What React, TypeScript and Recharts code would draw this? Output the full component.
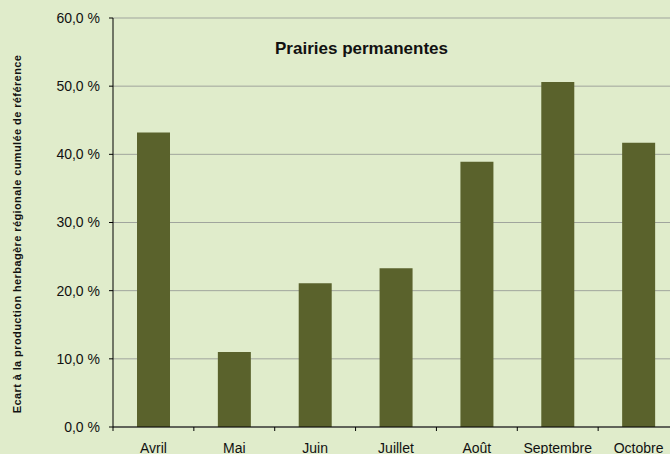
import React from "react";
import { BarChart, Bar, XAxis, YAxis, CartesianGrid, Customized } from "recharts";

const months = ["Avril", "Mai", "Juin", "Juillet", "Août", "Septembre", "Octobre"];
const ecart = [43.2, 11.0, 21.1, 23.3, 38.9, 50.6, 41.7];
const yTicks = [0, 10, 20, 30, 40, 50, 60];
const title = "Prairies permanentes";
const yLabel = "Ecart à la production herbagère régionale cumulée de référence";

const data = months.map((m, i) => ({ month: m, value: ecart[i] }));

const W = 700;
const H = 454;
const M = { top: 18, right: 21, bottom: 0, left: 0 };
const YW = 113;
const XH = 27;
const PLOT_W = W - M.left - M.right - YW;
const BAND = PLOT_W / months.length;
const X_TICK_SIZE = 4;
const X_TICK_MARGIN = 12;

const BG = "#E0ECCB";
const BAR = "#5A622C";
const FONT = "'Liberation Sans', Arial, sans-serif";

const fmt = (v: number) => `${v.toFixed(1).replace(".", ",")} %`;

const XTick = (props: any) => {
  const { x, y, payload } = props;
  const lineX = x - BAND / 2;
  const y0 = y - X_TICK_MARGIN - X_TICK_SIZE;
  return (
    <g>
      <line x1={lineX} x2={lineX} y1={y0} y2={y0 + X_TICK_SIZE} stroke="#000" strokeWidth={1} />
      <text x={x} y={y} dy="0.71em" textAnchor="middle" fontSize={14} fontFamily={FONT} fill="#111">
        {payload.value}
      </text>
    </g>
  );
};

const Texts = () => (
  <g>
    <text x={361.5} y={54} textAnchor="middle" fontSize={17} fontWeight="bold" fontFamily={FONT} fill="#111">
      {title}
    </text>
    <text
      x={21.3}
      y={234}
      transform="rotate(-90 21.3 234)"
      textAnchor="middle"
      fontSize={11}
      fontWeight="bold"
      letterSpacing={0.4}
      fontFamily={FONT}
      fill="#111"
    >
      {yLabel}
    </text>
  </g>
);

export default function App() {
  return (
    <div
      style={{
        position: "absolute",
        left: 0,
        top: 0,
        width: 670,
        height: 454,
        overflow: "hidden",
        background: BG,
      }}
    >
      <BarChart width={W} height={H} data={data} margin={M} barSize={33}>
        <CartesianGrid horizontal vertical={false} stroke="#A0A59D" strokeWidth={1} />
        <XAxis
          dataKey="month"
          height={XH}
          tickLine={false}
          tickSize={X_TICK_SIZE}
          tickMargin={X_TICK_MARGIN}
          axisLine={{ stroke: "#000", strokeWidth: 1 }}
          tick={<XTick />}
          interval={0}
        />
        <YAxis
          width={YW}
          domain={[0, 60]}
          ticks={yTicks}
          tickFormatter={fmt}
          tickSize={4}
          tickMargin={9}
          axisLine={{ stroke: "#000", strokeWidth: 1 }}
          tickLine={{ stroke: "#000" }}
          tick={{ fontSize: 14, fontFamily: FONT, fill: "#111" }}
          interval={0}
        />
        <Bar dataKey="value" fill={BAR} isAnimationActive={false} />
        <Customized component={Texts} />
      </BarChart>
    </div>
  );
}
